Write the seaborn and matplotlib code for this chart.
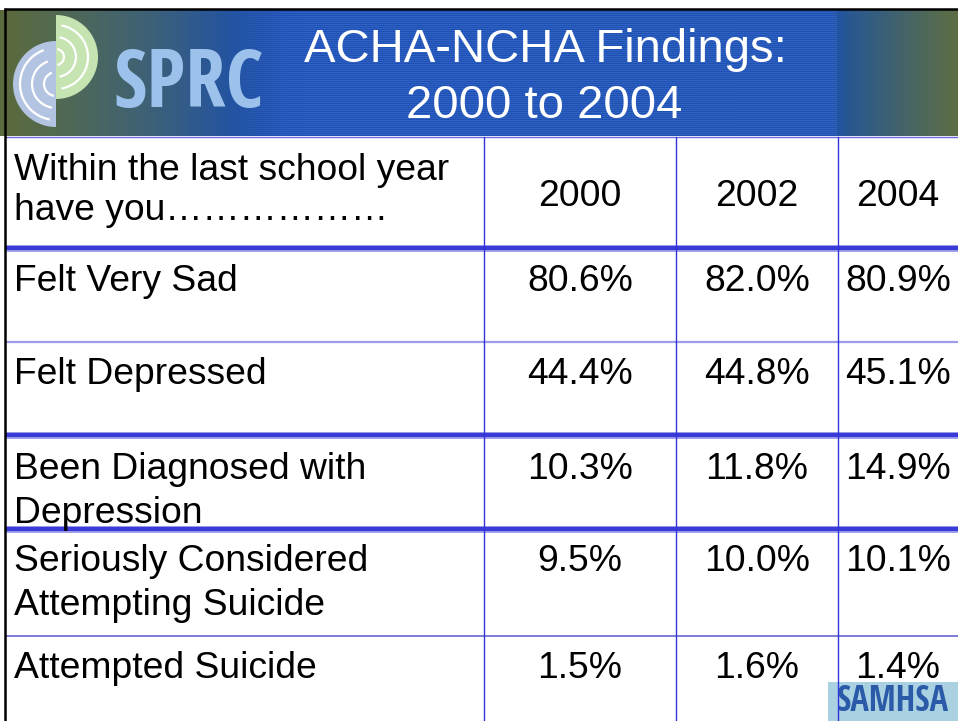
import numpy as np
import pandas as pd
import matplotlib
matplotlib.use("Agg")
import matplotlib.pyplot as plt
from matplotlib.patches import Wedge, Arc, Rectangle
from matplotlib import font_manager
import seaborn as sns

# ---------------- data ----------------
title_lines = ["ACHA-NCHA Findings:", "2000 to 2004"]
header_label = ["Within the last school year", "have you\u2026\u2026\u2026\u2026\u2026\u2026"]
years = ["2000", "2002", "2004"]
row_labels = [
    ["Felt Very Sad"],
    ["Felt Depressed"],
    ["Been Diagnosed with", "Depression"],
    ["Seriously Considered", "Attempting Suicide"],
    ["Attempted Suicide"],
]
values_2000 = [80.6, 44.4, 10.3, 9.5, 1.5]
values_2002 = [82.0, 44.8, 11.8, 10.0, 1.6]
values_2004 = [80.9, 45.1, 14.9, 10.1, 1.4]

df = pd.DataFrame({"2000": values_2000, "2002": values_2002, "2004": values_2004})

# ---------------- style ----------------
sns.set_theme(style="white")
plt.rcParams["font.family"] = ["Liberation Sans", "DejaVu Sans"]

# pick a narrow bold font if one exists
narrow_fp = None
for f in font_manager.fontManager.ttflist:
    if f.name in ("Liberation Sans Narrow", "Roboto Condensed", "Open Sans Condensed") and f.weight in ("bold", 700):
        narrow_fp = font_manager.FontProperties(fname=f.fname)
        break
if narrow_fp is None:
    for f in font_manager.fontManager.ttflist:
        if f.name == "DejaVu Sans" and f.stretch == "condensed" and f.weight in ("bold", 700):
            narrow_fp = font_manager.FontProperties(fname=f.fname)
            break
if narrow_fp is None:
    narrow_fp = font_manager.FontProperties(family="Liberation Sans", weight="bold")

W, H = 958, 721
fig = plt.figure(figsize=(W / 100, H / 100), dpi=100)
ax = fig.add_axes([0, 0, 1, 1])
ax.set_xlim(0, W)
ax.set_ylim(H, 0)
ax.axis("off")
renderer = fig.canvas.get_renderer()


def fit_text(x, y, s, width_px, max_size, color, **kw):
    fp = narrow_fp.copy()
    fp.set_size(max_size)
    t = ax.text(x, y, s, fontproperties=fp, color=color, **kw)
    w = t.get_window_extent(renderer=renderer).width
    if w > width_px:
        fp.set_size(max_size * width_px / w)
        t.set_fontproperties(fp)
    return t


# ---------------- header band (decorative gradient) ----------------
hx = np.arange(W)
kx = [5, 70, 150, 230, 280, 830, 845, 900, 958]
kc = np.array([
    [0.36, 0.42, 0.24],
    [0.31, 0.41, 0.34],
    [0.24, 0.38, 0.47],
    [0.14, 0.33, 0.63],
    [0.12, 0.31, 0.70],
    [0.12, 0.32, 0.70],
    [0.15, 0.34, 0.58],
    [0.26, 0.39, 0.42],
    [0.37, 0.43, 0.26],
])
row = np.stack([np.interp(hx, kx, kc[:, i]) for i in range(3)], axis=1)
y0, y1 = 10, 136
band = np.repeat(row[None, :, :], y1 - y0, axis=0).copy()
stripe_mask = np.zeros(W)
stripe_mask[(hx >= 240) & (hx <= 836)] = 1.0
ramp = np.clip((hx - 230) / 60.0, 0, 1)
stripe_mask = stripe_mask * ramp
for r in range(band.shape[0]):
    if r % 2 == 0:
        band[r] += 0.07 * stripe_mask[:, None]
band = np.clip(band, 0, 1)
ax.imshow(band, extent=(0, W, y1, y0), aspect="auto", interpolation="nearest", zorder=1)

# top and left black border
ax.plot([4, W], [9, 9], color="black", lw=1.8, zorder=5, solid_capstyle="butt")
ax.plot([5, 5], [8, H], color="black", lw=1.8, zorder=5, solid_capstyle="butt")
ax.plot([5, W], [136.5, 136.5], color="#6a6ae0", lw=1.0, zorder=4)

# ---------------- SPRC logo ----------------
ax.add_patch(Wedge((56, 84), 43, 90, 270, facecolor="#b3c4e2", edgecolor="none", zorder=3))
ax.add_patch(Wedge((56, 57), 42, -90, 90, facecolor="#c6e4b2", edgecolor="none", zorder=3))
for r in (12, 24, 36):
    ax.add_patch(Arc((56, 84), 2 * r, 2 * r, theta1=100, theta2=250, color="white", lw=1.6, zorder=4))
for r in (8, 20, 32):
    ax.add_patch(Arc((56, 57), 2 * r, 2 * r, theta1=-80, theta2=80, color="white", lw=1.6, zorder=4))
fit_text(113, 107, "SPRC", 150, 70, "#9cc2ec", ha="left", va="baseline", zorder=4)

# ---------------- title ----------------
ax.text(545, 62, title_lines[0], color="white", fontsize=34, ha="center", va="baseline", zorder=4)
ax.text(544, 118, title_lines[1], color="white", fontsize=34, ha="center", va="baseline", zorder=4)

# ---------------- table ----------------
fs = 26.8
col_centers = [580, 757, 898]
ax.text(14, 180, header_label[0], fontsize=fs, color="black", ha="left", va="baseline", zorder=4)
ax.text(14, 220, header_label[1], fontsize=fs, color="black", ha="left", va="baseline", zorder=4)
for cx, yr in zip(col_centers, years):
    ax.text(cx, 206, yr, fontsize=fs, color="black", ha="center", va="baseline", zorder=4)

row_base = [291, 384, 479, 571, 678]
line_gap = 44
for i, labels in enumerate(row_labels):
    for j, lab in enumerate(labels):
        ax.text(14, row_base[i] + j * line_gap, lab, fontsize=fs, color="black",
                ha="left", va="baseline", zorder=4)
    for cx, col in zip(col_centers, df.columns):
        ax.text(cx, row_base[i], f"{df[col].iloc[i]:.1f}%", fontsize=fs, color="black",
                ha="center", va="baseline", zorder=4)

# horizontal rules
for yy in (248, 435, 529):
    ax.plot([6, W], [yy, yy], color="#a0a0ec", lw=5.0, zorder=2, solid_capstyle="butt")
    ax.plot([6, W], [yy, yy], color="#3a3ad8", lw=3.0, zorder=2, solid_capstyle="butt")
ax.plot([6, W], [342, 342], color="#9b9be8", lw=1.6, zorder=2)
ax.plot([6, W], [636, 636], color="#5858cc", lw=1.1, zorder=2)

# SAMHSA logo
ax.add_patch(Rectangle((828, 682), 130, 40, facecolor="#a9d1e2", edgecolor="none", zorder=3))
fit_text(893, 720, "SAMHSA", 112, 30, "#2b5ba8", ha="center", va="bottom", zorder=4)

# vertical rules
for xx in (484, 676, 838):
    ax.plot([xx, xx], [137, H], color="#3333dd", lw=1.0, zorder=5)

fig.savefig("out.png", dpi=100)
